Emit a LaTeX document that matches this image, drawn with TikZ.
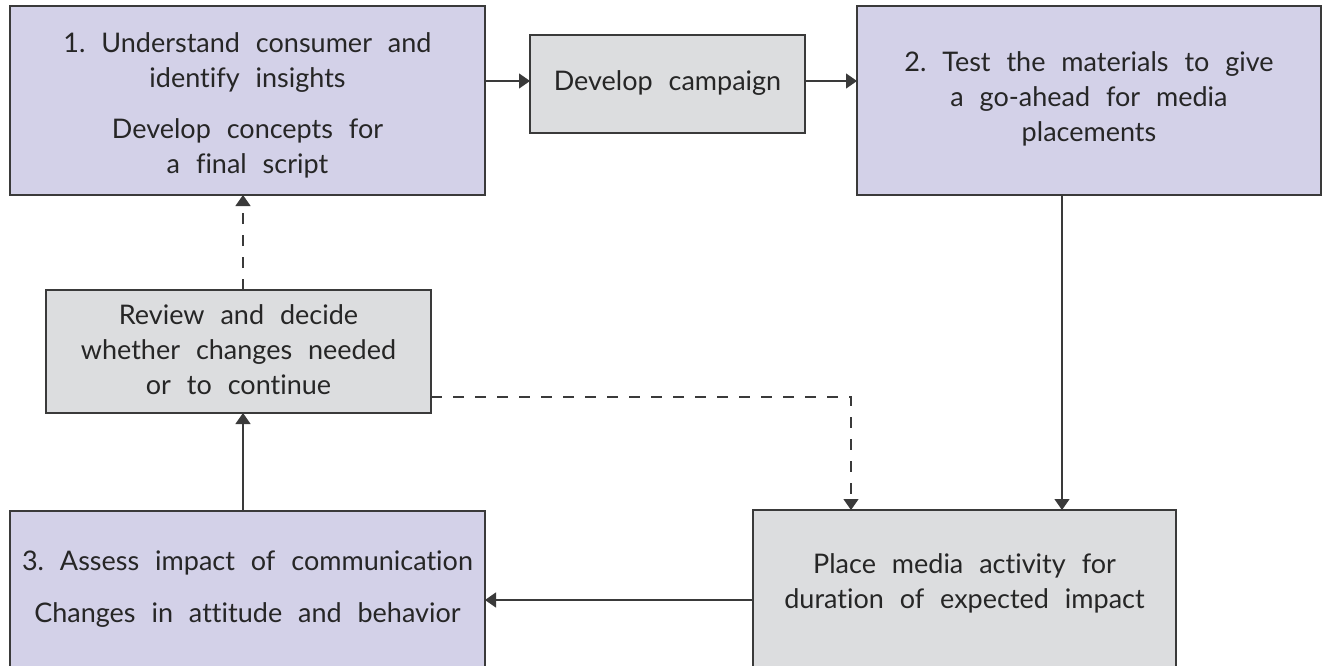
\documentclass[tikz,border=0pt]{standalone}
\usepackage{fontspec}
\setmainfont{Lato}[WordSpace=2.3, Ligatures=NoCommon]
\usetikzlibrary{arrows.meta}
\definecolor{lav}{HTML}{D3D1E8}
\definecolor{gry}{HTML}{DCDDDF}
\definecolor{edge}{HTML}{3A3A3A}
\begin{document}
\begin{tikzpicture}[x=1pt,y=-1pt,
  box/.style={draw=edge, line width=1.3pt, inner sep=0pt, outer sep=0pt},
  lavbox/.style={box, fill=lav},
  grybox/.style={box, fill=gry},
  lbl/.style={align=center, font=\fontsize{27}{35}\selectfont, text=black!85, inner sep=0pt},
  conn/.style={draw=edge, line width=1.3pt, -{Triangle[length=11pt,width=15pt]}},
  dconn/.style={conn, dash pattern=on 11pt off 11pt}]
\useasboundingbox (0,0) rectangle (1331,666);
\node[lavbox, minimum width=475pt, minimum height=189pt] (b1) at (247.5,100.5) {};
\node[lbl] (t1) at (247.5,105)
  {1.\ Understand consumer and\\identify insights\\[16pt]Develop concepts for\\a final script};
\node[grybox, minimum width=275pt, minimum height=98pt] (dev) at (667.5,84) {};
\node[lbl] (tdev) at (667.5,83) {Develop campaign};
\node[lavbox, minimum width=464pt, minimum height=189pt] (b2) at (1089,100.5) {};
\node[lbl] (t2) at (1089,99) {2.\ Test the materials to give\\a go-ahead for media\\placements};
\node[grybox, minimum width=385pt, minimum height=123pt] (rev) at (238.5,351.5) {};
\node[lbl] (trev) at (238.5,350) {Review and decide\\whether changes needed\\or to continue};
\node[grybox, minimum width=423pt, minimum height=170pt] (pm) at (964.5,595) {};
\node[lbl] (tpm) at (964.5,583) {Place media activity for\\duration of expected impact};
\node[lavbox, minimum width=475pt, minimum height=170pt] (b3) at (247.5,596) {};
\node[lbl] (t3) at (247.5,589) {3.\ Assess impact of communication\\[17pt]Changes in attitude and behavior};
\coordinate (c1) at (b1.east |- 0,81);
\coordinate (c2) at (dev.west |- 0,81);
\coordinate (c3) at (dev.east |- 0,81);
\coordinate (c4) at (b2.west |- 0,81);
\draw[conn] (c1) -- (c2);
\draw[conn] (c3) -- (c4);
\draw[conn] (b2.south -| 1062,0) -- (pm.north -| 1062,0);
\draw[conn] (pm.west |- 0,600) -- (b3.east |- 0,600);
\draw[conn] (b3.north -| 243,0) -- (rev.south -| 243,0);
\draw[dconn] (rev.north -| 243,0) -- (b1.south -| 243,0);
\coordinate (k) at (851,397);
\draw[dconn] (rev.east |- k) -- (k) -- (pm.north -| k);
\end{tikzpicture}
\end{document}
